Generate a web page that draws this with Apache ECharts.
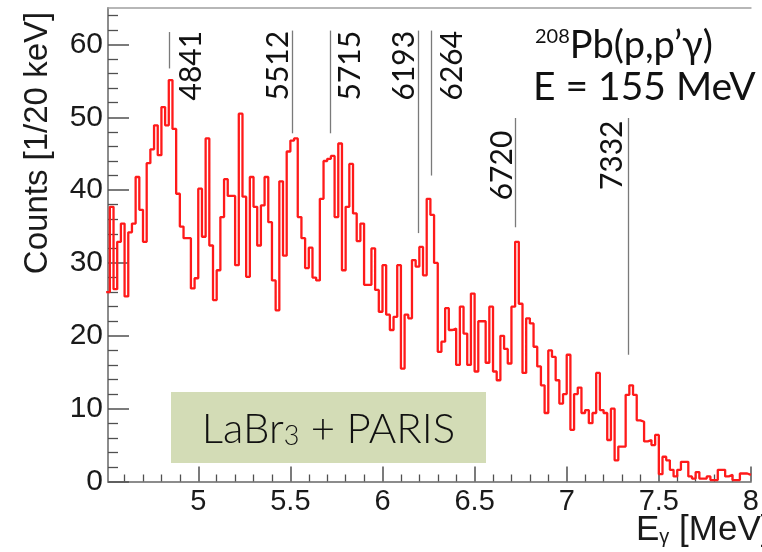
<!DOCTYPE html>
<html>
<head>
<meta charset="utf-8">
<title>208Pb(p,p'γ) spectrum</title>
<script src="https://cdn.jsdelivr.net/npm/echarts@6/dist/echarts.min.js"></script>
<style>
  html, body { margin: 0; padding: 0; background: #ffffff; }
  #chart { width: 762px; height: 552px; }
</style>
</head>
<body>
<div id="chart"></div>
<script>
// Gamma-ray spectrum, 20 keV bins starting at 4.50 MeV
const binStart = 4.50;
const binWidth = 0.02;
const counts = [
  26.0, 37.7, 26.4, 32.9, 35.4, 25.4, 34.2, 35.4, 41.8, 37.3,
  32.9, 43.7, 45.6, 48.9, 44.8, 51.4, 48.9, 55.1, 48.4, 39.5,
  35.0, 33.4, 33.4, 26.5, 27.9, 40.2, 33.6, 47.1, 32.4, 24.9,
  29.0, 36.3, 41.5, 39.2, 39.2, 29.7, 50.5, 39.1, 28.1, 41.8,
  37.7, 32.4, 37.9, 41.8, 35.6, 27.6, 23.5, 41.2, 31.0, 45.3,
  46.8, 47.1, 36.3, 33.4, 29.3, 32.1, 28.0, 27.6, 38.8, 44.0,
  44.3, 44.7, 36.3, 46.4, 29.0, 37.7, 43.6, 36.8, 33.0, 35.4,
  27.0, 27.0, 32.0, 26.3, 23.3, 29.7, 22.9, 20.8, 22.6, 29.7,
  15.5, 22.9, 22.4, 30.4, 29.5, 32.2, 28.3, 38.8, 36.6, 30.0,
  17.8, 19.2, 23.8, 20.8, 21.0, 16.0, 24.0, 20.3, 16.0, 25.8,
  15.1, 22.0, 22.0, 16.3, 24.0, 15.1, 13.9, 20.0, 18.2, 16.2,
  24.0, 32.9, 24.4, 14.9, 22.4, 21.7, 18.5, 15.8, 13.2, 9.4,
  18.0, 17.1, 13.9, 10.7, 12.0, 17.4, 7.1, 12.0, 12.9, 9.4,
  9.8, 8.0, 9.4, 14.9, 9.8, 9.4, 5.7, 10.0, 2.9, 4.8,
  4.8, 11.9, 13.2, 11.9, 8.4, 8.2, 5.5, 5.7, 5.0, 6.4,
  1.0, 3.4, 2.9, 1.6, 0.7, 1.6, 2.7, 2.7, 0.7, 0.4,
  1.3, 0.4, 0.4, 0.7, 0.2, 0.2, 1.6, 1.6, 0.7, 0.9,
  0.2, 0.2, 1.1, 1.1, 0.9
];

// Axis ticks
const xMin = 4.51, xMax = 8.0;
const xMajorTicks = [5, 5.5, 6, 6.5, 7, 7.5, 8];
const xMajorLabels = ['5', '5.5', '6', '6.5', '7', '7.5', '8'];
const xMinorTicks = [4.6, 4.7, 4.8, 4.9, 5.1, 5.2, 5.3, 5.4, 5.6, 5.7, 5.8, 5.9,
  6.1, 6.2, 6.3, 6.4, 6.6, 6.7, 6.8, 6.9, 7.1, 7.2, 7.3, 7.4, 7.6, 7.7, 7.8, 7.9];
const yMin = 0, yMax = 65;
const yMajorTicks = [0, 10, 20, 30, 40, 50, 60];
const yMinorTicks = [2, 4, 6, 8, 12, 14, 16, 18, 22, 24, 26, 28, 32, 34, 36, 38,
  42, 44, 46, 48, 52, 54, 56, 58, 62, 64];

// Known transitions (keV) marked on the spectrum
const peakEnergies = [4.841, 5.512, 5.715, 6.193, 6.264, 6.720, 7.332];
const peakNames = ['4841', '5512', '5715', '6193', '6264', '6720', '7332'];
const peakLineTop = [61.7, 61.9, 61.9, 61.9, 61.9, 49.9, 49.9];
const peakLineBottom = [56.7, 47.8, 47.8, 34.1, 42.0, 34.9, 17.4];
const peakLabelBase = [52.3, 52.3, 52.3, 52.3, 52.3, 38.6, 40.0];

// Step outline: one point per bin edge
const histData = counts.map((c, i) => [binStart + i * binWidth, c]);
histData.push([binStart + counts.length * binWidth, counts[counts.length - 1]]);

const tickFont = 'Liberation Sans';
const chart = echarts.init(document.getElementById('chart'), null, { renderer: 'canvas' });

const axisGrey = '#8c8c8c';
const tickGrey = '#505050';

chart.setOption({
  animation: false,
  backgroundColor: '#ffffff',
  grid: { left: 108, right: 2, top: 8, bottom: 70.5, containLabel: false },
  xAxis: [
    {
      type: 'value', min: xMin, max: xMax, position: 'bottom',
      axisLine: { show: true, onZero: false, lineStyle: { color: axisGrey, width: 2 } },
      axisTick: { show: true, inside: true, length: 15, customValues: xMajorTicks,
                  lineStyle: { color: tickGrey, width: 1.5 } },
      axisLabel: { show: true, customValues: xMajorTicks, margin: 6,
                   formatter: v => xMajorLabels[xMajorTicks.indexOf(v)] || '',
                   fontFamily: tickFont, fontSize: 29, color: '#1a1a1a' },
      splitLine: { show: false }
    },
    {
      type: 'value', min: xMin, max: xMax, position: 'bottom',
      axisLine: { show: false },
      axisTick: { show: true, inside: true, length: 7, customValues: xMinorTicks,
                  lineStyle: { color: tickGrey, width: 1.3 } },
      axisLabel: { show: false },
      splitLine: { show: false }
    },
    {
      type: 'value', min: xMin, max: xMax, position: 'top',
      axisLine: { show: true, onZero: false, lineStyle: { color: '#a0a0a0', width: 1.5 } },
      axisTick: { show: false }, axisLabel: { show: false }, splitLine: { show: false }
    }
  ],
  yAxis: [
    {
      type: 'value', min: yMin, max: yMax, position: 'left',
      axisLine: { show: true, onZero: false, lineStyle: { color: axisGrey, width: 2 } },
      axisTick: { show: true, inside: true, length: 21, customValues: yMajorTicks,
                  lineStyle: { color: tickGrey, width: 1.5 } },
      axisLabel: { show: true, customValues: yMajorTicks, margin: 5,
                   fontFamily: tickFont, fontSize: 30, color: '#1a1a1a' },
      splitLine: { show: false }
    },
    {
      type: 'value', min: yMin, max: yMax, position: 'left',
      axisLine: { show: false },
      axisTick: { show: true, inside: true, length: 10, customValues: yMinorTicks,
                  lineStyle: { color: tickGrey, width: 1.3 } },
      axisLabel: { show: false },
      splitLine: { show: false }
    }
  ],
  series: [
    {
      name: 'spectrum',
      type: 'line',
      xAxisIndex: 0, yAxisIndex: 0,
      step: 'end',
      data: histData,
      showSymbol: false,
      symbol: 'none',
      clip: true,
      lineStyle: { color: '#ff1a1a', width: 2.3 },
      z: 5,
      markLine: {
        silent: true,
        symbol: ['none', 'none'],
        label: { show: false },
        lineStyle: { color: '#7a7a7a', width: 1.3, type: 'solid' },
        data: peakEnergies.map((e, i) => [
          { coord: [e, peakLineTop[i]] },
          { coord: [e, peakLineBottom[i]] }
        ])
      }
    }
  ]
});

// Peak labels, placed beside each marker line
const labelShift = [22, -14, 20, -14, 21, -13, -16];
const graphics = [];
peakEnergies.forEach((e, i) => {
  const p = chart.convertToPixel({ gridIndex: 0 }, [e, peakLabelBase[i]]);
  graphics.push({
    type: 'text', x: p[0] + labelShift[i], y: p[1], rotation: Math.PI / 2, z: 20,
    style: { text: peakNames[i], font: '30px Lato', fill: '#111111',
             textAlign: 'left', textVerticalAlign: 'middle' }
  });
});

// Axis titles
graphics.push({
  type: 'text', x: 38, y: 143, rotation: Math.PI / 2, z: 20,
  style: { text: 'Counts [1/20 keV]', font: '33px "Liberation Sans"', fill: '#1a1a1a',
           textAlign: 'center', textVerticalAlign: 'middle' }
});
graphics.push({
  type: 'text', x: 636, y: 530, z: 20,
  style: {
    text: '{e|E}{g|γ}{e| [MeV]}',
    textAlign: 'left', textVerticalAlign: 'middle',
    rich: {
      e: { font: '35px "Liberation Sans"', fill: '#1a1a1a', verticalAlign: 'top' },
      g: { font: '20px "Liberation Sans"', fill: '#1a1a1a', verticalAlign: 'bottom', lineHeight: 34 }
    }
  }
});

// Reaction label, top right
graphics.push({
  type: 'text', x: 535, y: 46, z: 20,
  style: {
    text: '{s|208}{b|Pb(p,p’γ)}',
    textAlign: 'left', textVerticalAlign: 'middle',
    rich: {
      s: { font: '20px Lato', fill: '#111111', verticalAlign: 'top' },
      b: { font: '38px Lato', fill: '#111111' }
    }
  }
});
graphics.push({
  type: 'text', x: 533, y: 87, z: 20,
  style: { text: 'E = 155 MeV', font: '39px Lato', fill: '#111111',
           textAlign: 'left', textVerticalAlign: 'middle' }
});

// Detector label box
graphics.push({
  type: 'rect', z: 15,
  shape: { x: 171, y: 392, width: 315, height: 71 },
  style: { fill: '#d3dcb6' }
});
graphics.push({
  type: 'text', x: 328.5, y: 429, z: 16,
  style: {
    text: '{t|LaBr}{d|3}{t| + PARIS}',
    textAlign: 'center', textVerticalAlign: 'middle',
    rich: {
      t: { font: '300 42px Lato', fill: '#111111', verticalAlign: 'top' },
      d: { font: '300 27px Lato', fill: '#111111', verticalAlign: 'bottom' }
    }
  }
});

chart.setOption({ graphic: graphics });
</script>
</body>
</html>
